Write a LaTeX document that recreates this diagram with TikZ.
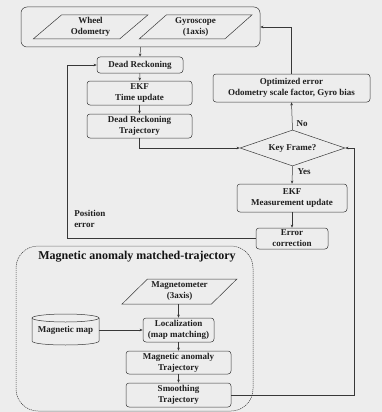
\documentclass[tikz,border=0pt]{standalone}
\usepackage{fontspec}
\setmainfont{Liberation Serif}
\usetikzlibrary{arrows.meta,shapes.geometric}
\colorlet{ln}{black!78}
\definecolor{bgc}{RGB}{237,237,237}
\newcommand\boxfont{\fontsize{9}{11}\selectfont\bfseries}

\begin{document}
\begin{tikzpicture}[x=1pt,y=-1pt,>={Stealth[length=3.2pt,width=2.6pt]},line width=0.5pt,
  box/.style={draw=ln,rounded corners=3pt,align=center,font=\boxfont,text=black!88,inner sep=0pt},
  io/.style={draw=ln,trapezium,trapezium stretches=true,trapezium left angle=#1,trapezium right angle=180-#1,align=center,font=\boxfont,text=black!88,inner sep=0pt},
  conn/.style={draw=ln,->},
  lbl/.style={font=\boxfont,text=black!88,inner sep=0pt}]
\path[use as bounding box,fill=bgc] (0,0) rectangle (382,412);
\node[draw=ln,rounded corners=6pt,minimum width=239pt,minimum height=40pt] (sensors) at (140.5,27) {};
\node[io=45,minimum width=115pt,minimum height=24pt] (wheel) at (90.5,27) {Wheel\\Odometry};
\node[io=45,minimum width=113pt,minimum height=24pt] (gyro) at (195.5,27) {Gyroscope\\(1axis)};
\node[box,minimum width=86pt,minimum height=16pt] (dr) at (140,65) {Dead Reckoning};
\node[box,minimum width=105pt,minimum height=24pt] (ekft) at (139.5,93) {EKF\\Time update};
\node[box,minimum width=105pt,minimum height=24pt] (drt) at (139.5,126) {Dead Reckoning\\Trajectory};
\node[box,minimum width=157pt,minimum height=28pt] (opt) at (291.5,88) {Optimized error\\Odometry scale factor, Gyro bias};
\node[draw=ln,diamond,aspect=2.9,minimum width=105pt,minimum height=36pt,font=\boxfont,text=black!88,inner sep=0pt] (key) at (292.5,148) {Key Frame?};
\node[box,minimum width=110pt,minimum height=28pt] (ekfm) at (292,198) {EKF\\Measurement update};
\node[box,minimum width=72pt,minimum height=21pt] (errc) at (292,238.5) {Error\\correction};
\node[lbl] (no) at (302,124) {No}; \node[lbl] (yes) at (304,172) {Yes};
\node[lbl,align=left,anchor=west] (poserr) at (74,219) {Position\\error};

\draw[ln,dash pattern=on 1.2pt off 0.8pt,rounded corners=22pt] (16,246) rectangle (253,411);
\node[font=\fontsize{12}{14}\selectfont\bfseries,text=black!92,inner sep=0pt] (title) at (137,257) {Magnetic anomaly matched-trajectory};
\node[io=40,minimum width=115pt,minimum height=25pt] (mag) at (179.5,291.5) {Magnetometer\\(3axis)};
\node[box,minimum width=71pt,minimum height=24pt] (loc) at (178.5,330) {Localization\\(map matching)};
\node[font=\boxfont,text=black!88,inner sep=0pt,minimum width=67pt,minimum height=31pt] (map) at (65.5,330) {Magnetic map};
\draw[ln] (65.5,318) ellipse[x radius=33.5,y radius=4];
\draw[ln] (32,318) -- (32,341) .. controls (32,346.33) and (99,346.33) .. (99,341) -- (99,318);
\node[box,minimum width=105pt,minimum height=23pt] (mat) at (178.5,362.5) {Magnetic anomaly\\Trajectory};
\node[box,minimum width=105pt,minimum height=24pt] (smooth) at (178.5,395) {Smoothing\\Trajectory};

\coordinate (fb) at (67,238.5); \coordinate (rt) at (354,395);
\draw[conn] (sensors.south) -- (dr.north);
\draw[conn] (dr) -- (ekft); \draw[conn] (ekft) -- (drt);
\draw[conn] (drt.south) |- (key.west);
\draw[conn] (key.north) -- (opt.south);
\draw[conn] (opt.north) |- (sensors.east);
\draw[conn] (key.south) -- (ekfm.north);
\draw[conn] (ekfm.south) -- (errc.north);
\draw[conn] (errc.west) -- (fb) |- (dr.west);
\draw[conn] (mag.south -| loc.north) -- (loc.north);
\draw[conn] (map.east) -- (map.east -| loc.west);
\draw[conn] (loc) -- (mat); \draw[conn] (mat) -- (smooth);
\draw[conn] (smooth.east) -- (rt) |- (key.east);
\end{tikzpicture}
\end{document}
